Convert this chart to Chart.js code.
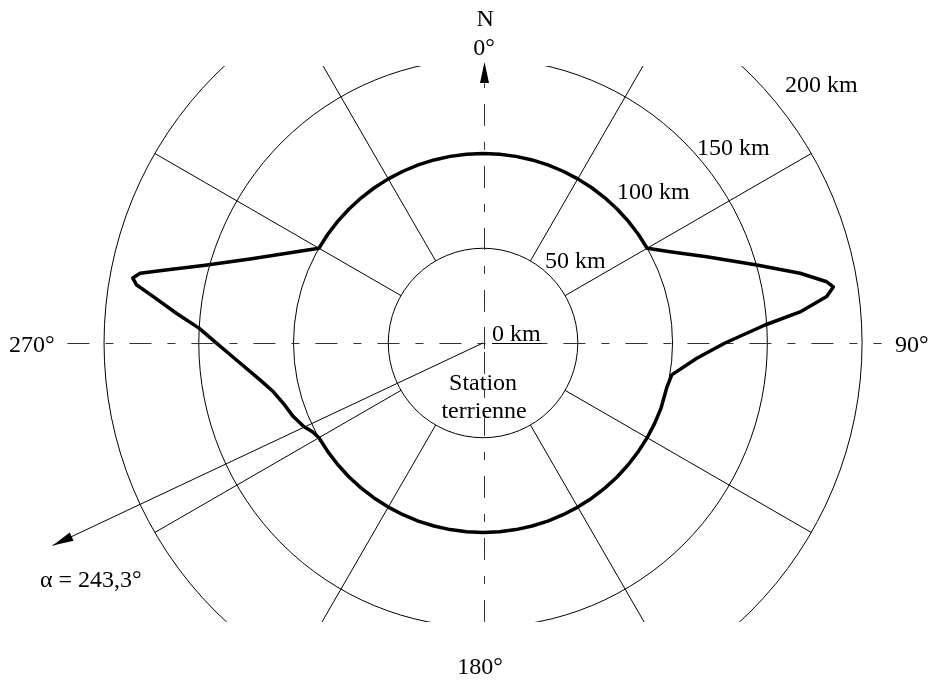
<!DOCTYPE html>
<html>
<head>
<meta charset="utf-8">
<script src="https://cdn.jsdelivr.net/npm/chart.js@4.4.0/dist/chart.umd.min.js"></script>
<style>
html, body { margin: 0; padding: 0; background: #fff; }
#wrap { width: 928px; height: 682px; position: relative; }
</style>
</head>
<body>
<div id="wrap"><canvas id="myChart"></canvas></div>
<script>
// coordination contour around the earth station
// azimuth in degrees from north (clockwise), distance in km
var contourAz = [
    0, 5, 10, 15, 20, 25, 30, 35, 40, 45, 50, 55, 60,
    64.0, 68.9, 74.1, 77.6, 79.9, 80.9, 82.3, 84.4, 86.35, 90.0, 94.1, 99.6, 103.4,
    110, 115, 120, 125, 130, 135, 140, 145, 150, 155, 160, 165, 170,
    175, 180, 185, 190, 195, 200, 205, 210, 215, 220, 225, 230, 235, 240,
    242.5, 245.0, 248.8, 253.2, 256.9, 260.6, 266.0, 269.9, 273.0, 275.5, 278.0, 279.5, 280.5,
    281.5, 283.2, 285.5, 289.8,
    300, 305, 310, 315, 320, 325, 330, 335, 340, 345, 350, 355, 360
];
var contourKm = [
    100, 100, 100, 100, 100, 100, 100, 100, 100, 100, 100, 100, 100,
    109.8, 126.5, 150.2, 171.3, 184.2, 187.2, 183.0, 168.1, 149.1, 127.7, 113.1, 101.0, 99.8,
    100, 100, 100, 100, 100, 100, 100, 100, 100, 100, 100, 100, 100,
    100, 100, 100, 100, 100, 100, 100, 100, 100, 100, 100, 100, 100, 100,
    101.5, 104.4, 107.4, 110.1, 113.6, 119.3, 130.3, 140.5, 150.1, 162.4, 175.7, 185.3, 188.0,
    184.7, 169.7, 153.2, 130.7,
    100, 100, 100, 100, 100, 100, 100, 100, 100, 100, 100, 100, 100
];

var ringsKm = [50, 100, 150, 200];
var ringLabels = ["50 km", "100 km", "150 km", "200 km"];
var spokesDeg = [30, 60, 120, 150, 210, 240, 300, 330];
var alphaDeg = 243.3;        // value written in the figure
var alphaArrowDeg = 244.8;   // direction of the arrow as drawn
var alphaArrowKm = 251;

function toRad(d) { return d * Math.PI / 180; }

var points = [];
for (var i = 0; i < contourAz.length; i++) {
    points.push({
        x: contourKm[i] * Math.sin(toRad(contourAz[i])),
        y: contourKm[i] * Math.cos(toRad(contourAz[i]))
    });
}

function arrowHead(ctx, x1, y1, x2, y2, len, half) {
    var a = Math.atan2(y2 - y1, x2 - x1);
    ctx.beginPath();
    ctx.moveTo(x2, y2);
    ctx.lineTo(x2 - len * Math.cos(a) + half * Math.sin(a), y2 - len * Math.sin(a) - half * Math.cos(a));
    ctx.lineTo(x2 - len * Math.cos(a) - half * Math.sin(a), y2 - len * Math.sin(a) + half * Math.cos(a));
    ctx.closePath();
    ctx.fill();
}

var polarGrid = {
    id: 'polarGrid',
    beforeDatasetsDraw: function(chart) {
        var ctx = chart.ctx, xs = chart.scales.x, ys = chart.scales.y;
        var cx = xs.getPixelForValue(0), cy = ys.getPixelForValue(0);
        var k = xs.getPixelForValue(1) - cx;
        var top = ys.getPixelForValue(146.2), bottom = ys.getPixelForValue(-147.2);

        ctx.save();
        ctx.beginPath();
        ctx.rect(0, top, chart.width, bottom - top);
        ctx.clip();
        ctx.strokeStyle = '#000';
        ctx.lineWidth = 1;
        ringsKm.forEach(function(r) {
            ctx.beginPath();
            ctx.arc(cx, cy, r * k, 0, 2 * Math.PI);
            ctx.stroke();
        });
        spokesDeg.forEach(function(a) {
            var s = Math.sin(toRad(a)), c = Math.cos(toRad(a));
            ctx.beginPath();
            ctx.moveTo(xs.getPixelForValue(ringsKm[0] * s), ys.getPixelForValue(ringsKm[0] * c));
            ctx.lineTo(xs.getPixelForValue(ringsKm[3] * s), ys.getPixelForValue(ringsKm[3] * c));
            ctx.stroke();
        });
        ctx.restore();

        // dash-dot axes
        ctx.save();
        ctx.strokeStyle = '#333';
        ctx.lineWidth = 1;
        ctx.setLineDash([22, 16, 8, 16]);
        var hy = Math.round(cy) + 0.5;
        ctx.beginPath();
        ctx.moveTo(xs.getPixelForValue(-219.3), hy);
        ctx.lineTo(xs.getPixelForValue(210.3), hy);
        ctx.stroke();
        var vx = Math.round(cx) + 1.5;
        ctx.beginPath();
        ctx.moveTo(vx, ys.getPixelForValue(-147.2));
        ctx.lineTo(vx, ys.getPixelForValue(137));
        ctx.stroke();
        ctx.setLineDash([]);
        ctx.beginPath();
        ctx.moveTo(vx, ys.getPixelForValue(137));
        ctx.lineTo(vx, ys.getPixelForValue(146));
        ctx.stroke();
        ctx.beginPath();
        ctx.moveTo(vx, cy - 16);
        ctx.lineTo(vx, cy + 6);
        ctx.stroke();
        ctx.fillStyle = '#000';
        arrowHead(ctx, vx, cy, vx, ys.getPixelForValue(148.3), 21, 4.5);
        ctx.restore();

        // alpha direction
        ctx.save();
        ctx.strokeStyle = '#000';
        ctx.fillStyle = '#000';
        ctx.lineWidth = 1;
        var ex = xs.getPixelForValue(alphaArrowKm * Math.sin(toRad(alphaArrowDeg)));
        var ey = ys.getPixelForValue(alphaArrowKm * Math.cos(toRad(alphaArrowDeg)));
        ctx.beginPath();
        ctx.moveTo(cx, cy);
        ctx.lineTo(ex, ey);
        ctx.stroke();
        arrowHead(ctx, cx, cy, ex, ey, 21, 4.5);
        ctx.restore();
    },
    afterDatasetsDraw: function(chart) {
        var ctx = chart.ctx, xs = chart.scales.x, ys = chart.scales.y;
        var cx = xs.getPixelForValue(0), cy = ys.getPixelForValue(0);
        ctx.save();
        ctx.fillStyle = '#000';
        ctx.font = '24px "Liberation Serif"';
        ctx.textBaseline = 'alphabetic';

        ctx.textAlign = 'center';
        ctx.fillText('N', cx + 2, 26);
        ctx.fillText('0°', cx + 1, 55);
        ctx.fillText('180°', cx - 3, 674);
        ctx.fillText('Station', cx, 390);
        ctx.fillText('terrienne', cx + 1, 418);

        ctx.textAlign = 'left';
        ctx.fillText('270°', 9, cy + 9);
        ctx.fillText('90°', 895, cy + 9);
        ctx.fillText('0 km', cx + 9, cy - 2);
        ctx.fillText('α = ' + String(alphaDeg).replace('.', ',') + '°', 40, 587);

        var ringPos = [[545, 268], [617, 199], [697, 155], [785, 92]];
        for (var i = 0; i < ringLabels.length; i++) {
            ctx.fillText(ringLabels[i], ringPos[i][0], ringPos[i][1]);
        }
        // underline of "0 km"
        ctx.strokeStyle = '#000';
        ctx.lineWidth = 1;
        ctx.beginPath();
        ctx.moveTo(cx + 9, Math.round(cy) + 0.5);
        ctx.lineTo(cx + 59, Math.round(cy) + 0.5);
        ctx.stroke();
        ctx.restore();
    }
};

var ctx = document.getElementById("myChart");
var chart = new Chart(ctx, {
    type: 'scatter',
    data: {
        datasets: [{
            label: "Contour",
            data: points,
            showLine: true,
            borderColor: '#000',
            borderWidth: 3.5,
            borderJoinStyle: 'round',
            pointRadius: 0,
            tension: 0,
            fill: false
        }]
    },
    options: {
        responsive: true,
        maintainAspectRatio: false,
        animation: false,
        layout: { padding: 0 },
        plugins: {
            legend: { display: false },
            tooltip: { enabled: false }
        },
        scales: {
            x: { display: false, min: -254.9, max: 234.8 },
            y: { display: false, min: -178.9, max: 181.0 }
        }
    },
    plugins: [polarGrid]
});
</script>
</body>
</html>
